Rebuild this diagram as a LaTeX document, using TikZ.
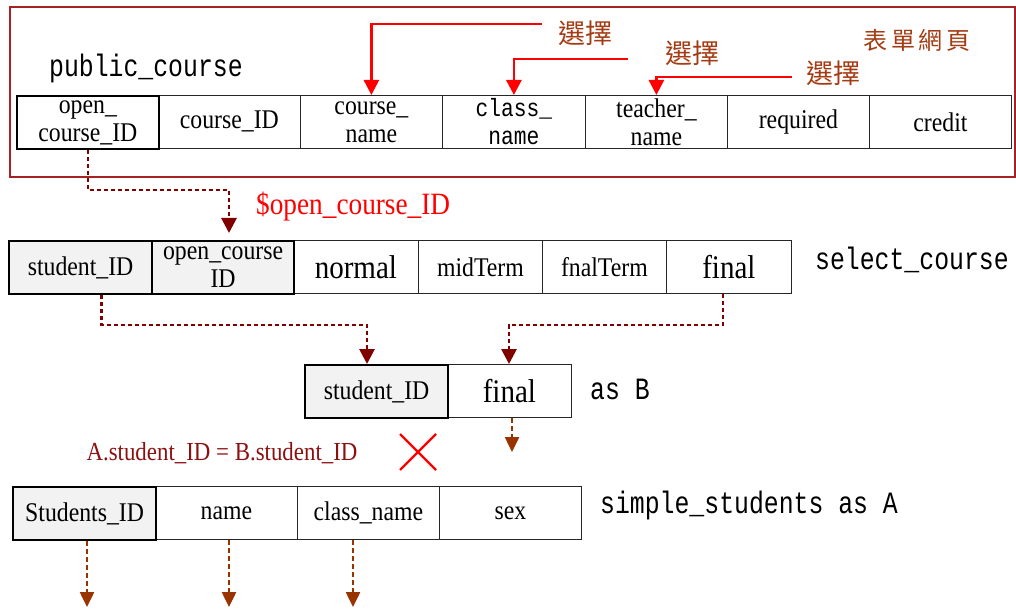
\documentclass[tikz,border=0pt]{standalone}
\usepackage{fontspec}
\setmainfont[FakeStretch=0.88]{Liberation Serif}
\newfontfamily\monof[FakeStretch=0.8]{Liberation Mono}
\newfontfamily\monocf[FakeStretch=0.85]{Liberation Mono}
\newfontfamily\cjkf{Noto Sans CJK TC}
\usetikzlibrary{arrows.meta,calc}
\definecolor{boxred}{HTML}{A52222}
\definecolor{dkred}{HTML}{800000}
\definecolor{brcol}{HTML}{993300}
\definecolor{selcol}{HTML}{A33C14}
\definecolor{eqcol}{HTML}{8B1010}
\definecolor{keygray}{HTML}{F2F2F2}
\begin{document}
\begin{tikzpicture}[x=1pt,y=-1pt,
  cell/.style={draw=black!85, line width=0.8pt, minimum height=53pt, inner sep=0pt, anchor=north west, align=center, font=\fontsize{27}{28}\selectfont},
  keycell/.style={cell, fill=keygray, draw=black, line width=2.2pt},
  big/.style={font=\fontsize{33}{34}\selectfont},
  monocell/.style={font=\monocf\fontsize{25}{28}\selectfont},
  redarr/.style={red, line width=2.6pt, -{Triangle[length=15pt,width=15pt]}},
  dkarr/.style={dkred, line width=2.8pt, dash pattern=on 4pt off 3pt, -{Triangle[length=15pt,width=15pt]}},
  brarr/.style={brcol, line width=2.5pt, dash pattern=on 5pt off 3pt, -{Triangle[length=15pt,width=14pt]}},
  monolabel/.style={font=\monof\fontsize{31}{32}\selectfont, inner sep=0pt},
  sel/.style={font=\cjkf\fontsize{27}{30}\selectfont, text=selcol, inner sep=0pt}]
\useasboundingbox (0,0) rectangle (1016,609);

% frame
\node[draw=boxred, line width=1.8pt, minimum width=1005pt, minimum height=170pt, anchor=north west, inner sep=0pt] (frame) at (9,6) {};

% labels
\node[monolabel, anchor=base west] (lpc) at (49,77) {public\_course};
\node[monolabel, anchor=base west] (lsc) at (815,270) {select\_course};
\node[monolabel, anchor=base west] (lb) at (590,399) {as B};
\node[monolabel, anchor=base west] (la) at (600,513) {simple\_students as A};
\node[sel] (s1l) at (585,33) {選擇};
\node[sel] (s2l) at (692,53) {選擇};
\node[sel] (s3l) at (833,73) {選擇};
\node[sel, font=\cjkf\fontsize{24}{28}\selectfont] (form) at (917,40) {表\hspace{3.5pt}單\hspace{3.5pt}網\hspace{3.5pt}頁};
\node[text=red, font=\fontsize{31}{32}\selectfont, anchor=west, inner sep=0pt] (param) at (256,207) {\$open\_course\_ID};
\node[text=eqcol, font=\fontsize{26}{28}\selectfont, inner sep=0pt] (eq) at (222,453) {A.student\_ID = B.student\_ID};

% table public_course
\node[cell, minimum width=142pt] (p2) at (158,95) {course\_ID};
\node[cell, minimum width=142pt] (p3) at (300,95) {course\_\\name};
\node[cell, monocell, minimum width=143pt] (p4) at (442,95) {class\_\\name};
\node[cell, minimum width=142pt] (p5) at (585,95) {teacher\_\\name};
\node[cell, minimum width=142pt] (p6) at (727,95) {required};
\node[cell, minimum width=142pt] (p7) at (869,95) {credit};
\node[cell, draw=black, line width=1.8pt, minimum width=142pt] (p1) at (16,95) {open\_\\course\_ID};

% table select_course
\node[cell, big, minimum width=125pt] (c3) at (293,240) {normal};
\node[cell, minimum width=124pt] (c4) at (418,240) {midTerm};
\node[cell, minimum width=124pt] (c5) at (542,240) {fnalTerm};
\node[cell, big, minimum width=125pt] (c6) at (666,240) {final};
\node[keycell, minimum width=143pt] (c1) at (8,240) {student\_ID};
\node[keycell, minimum width=142pt] (c2) at (151,240) {open\_course\\ID};

% table B
\node[cell, big, minimum width=124pt] (b2) at (447,364) {final};
\node[keycell, minimum width=143pt] (b1) at (304,364) {student\_ID};

% table A
\node[cell, minimum width=142pt] (a2) at (155,486) {name};
\node[cell, minimum width=142pt] (a3) at (297,486) {class\_name};
\node[cell, minimum width=142pt] (a4) at (439,486) {sex};
\node[keycell, minimum width=143pt] (a1) at (12,486) {Students\_ID};

% red selection arrows
\coordinate (r1) at (542,24);
\coordinate (r2) at (628,59);
\coordinate (r3) at (792,77);
\draw[redarr] (r1) -| (p3.north);
\draw[redarr] (r2) -| (p4.north);
\draw[redarr] (r3) -| (p5.north);

% dashed dark red connectors
\coordinate (k1) at (229,190);
\draw[dkarr, shorten >=7pt] (p1.south) |- (k1) -- (k1 |- c2.north);
\coordinate (k2) at (367,325);
\draw[dkarr] ([xshift=21pt]c1.south) |- (k2) -- (k2 |- b1.north);
\coordinate (k3) at (509,325);
\draw[dkarr] ([xshift=-6pt]c6.south) |- (k3) -- (k3 |- b2.north);

% brown output arrows
\coordinate (e0) at (512,452);
\draw[brarr] (b2.south -| e0) -- (e0);
\coordinate (f1) at (87,607);
\coordinate (f2) at (229,607);
\coordinate (f3) at (353,607);
\draw[brarr] (a1.south -| f1) -- (f1);
\draw[brarr] (a2.south -| f2) -- (f2);
\draw[brarr] (a3.south -| f3) -- (f3);

% red cross
\draw[red, line width=2.2pt] (400,434) -- (436,470) (436,434) -- (400,470);
\end{tikzpicture}
\end{document}
